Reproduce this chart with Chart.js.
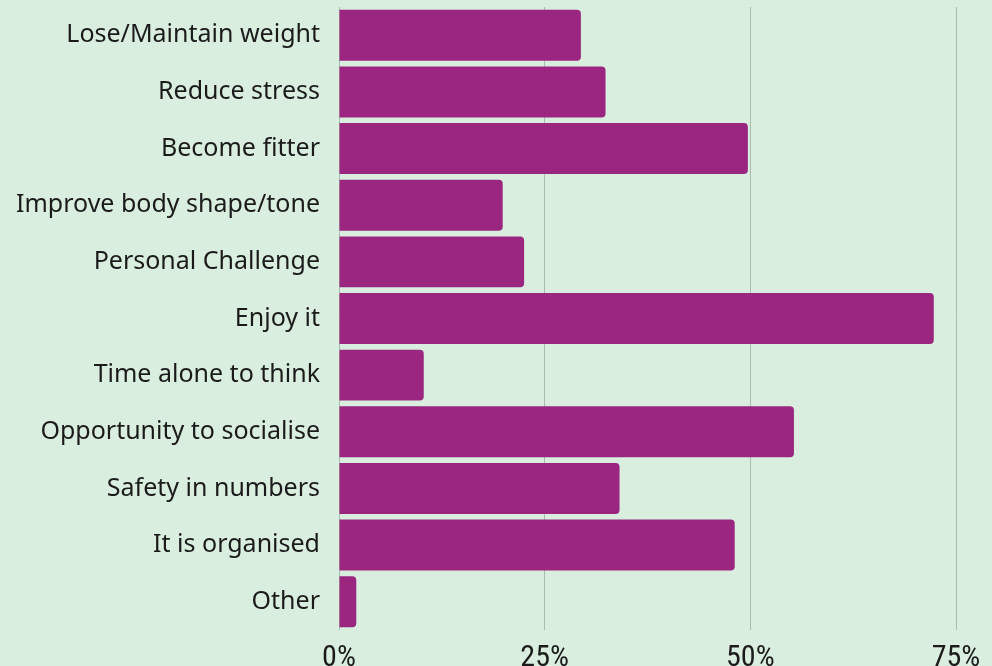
<!DOCTYPE html>
<html>
<head>
<meta charset="utf-8">
<script src="https://cdn.jsdelivr.net/npm/chart.js@4"></script>
<style>
  html, body { margin: 0; padding: 0; background: #daeee0; }
  #wrap { width: 992px; height: 666px; }
</style>
</head>
<body>
<div id="wrap"><canvas id="reasons"></canvas></div>
<script>
// Reasons for running with a group (% of respondents)
const reasons = [
  'Lose/Maintain weight',
  'Reduce stress',
  'Become fitter',
  'Improve body shape/tone',
  'Personal Challenge',
  'Enjoy it',
  'Time alone to think',
  'Opportunity to socialise',
  'Safety in numbers',
  'It is organised',
  'Other'
];
const percentages = [29.4, 32.4, 49.7, 19.9, 22.5, 72.3, 10.3, 55.3, 34.1, 48.1, 2.1];
const xTicks = [0, 25, 50, 75];

const barColor = '#9b267f';
const gridColor = '#a9bbaf';
const textColor = '#1b1b1b';

new Chart(document.getElementById('reasons'), {
  type: 'bar',
  data: {
    labels: reasons,
    datasets: [{
      data: percentages,
      backgroundColor: barColor,
      borderRadius: { topRight: 4, bottomRight: 4 },
      borderSkipped: 'start',
      categoryPercentage: 0.9,
      barPercentage: 1.0
    }]
  },
  options: {
    indexAxis: 'y',
    responsive: true,
    maintainAspectRatio: false,
    animation: false,
    layout: { padding: { top: 7, right: 36, bottom: 0, left: 0 } },
    plugins: {
      legend: { display: false },
      tooltip: { enabled: false }
    },
    scales: {
      x: {
        min: 0,
        max: 75,
        afterBuildTicks: scale => { scale.ticks = xTicks.map(v => ({ value: v })); },
        afterFit: scale => { scale.height = 36; },
        border: { display: false },
        grid: { color: gridColor, lineWidth: 1, drawTicks: false },
        ticks: {
          color: textColor,
          padding: 10,
          font: { family: '"Liberation Sans Narrow", "Roboto Condensed", "Liberation Sans", sans-serif', size: 30 },
          callback: v => v + '%'
        }
      },
      y: {
        afterFit: scale => {
          scale.width = 339;
          scale.paddingTop = 0;
          scale.paddingBottom = 0;
        },
        border: { display: false },
        grid: { display: false, drawTicks: false },
        ticks: {
          color: textColor,
          padding: 19,
          font: { family: '"Noto Sans", "Open Sans", sans-serif', size: 25 }
        }
      }
    }
  }
});
</script>
</body>
</html>
